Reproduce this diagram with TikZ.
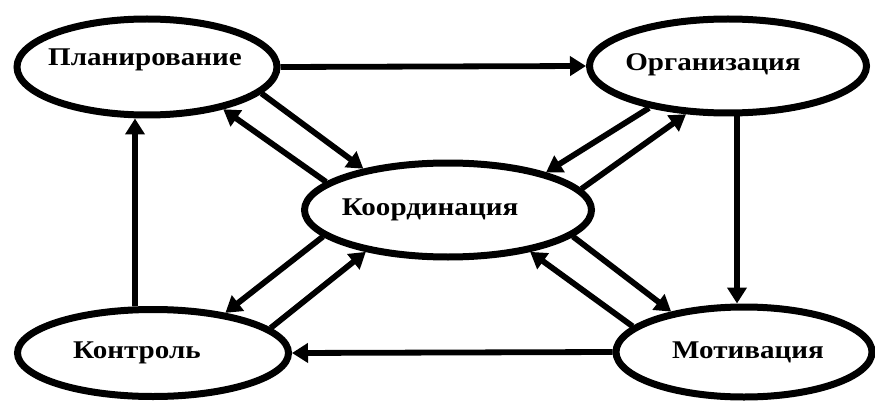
\documentclass[tikz,border=0pt]{standalone}
\usepackage{fontspec}
\setmainfont{Liberation Serif}
\newfontfamily\lblfont[FakeStretch=1.14]{Liberation Serif}
\usetikzlibrary{shapes.geometric,arrows.meta}
\tikzset{
  oval/.style={ellipse, draw, line width=7pt, inner sep=0pt, fill=white},
  lbl/.style={font=\lblfont\fontsize{25.5}{28}\selectfont\bfseries, anchor=base, inner sep=0pt},
  arr/.style={line width=5.8pt, -{Triangle[length=16pt,width=19pt]}}
}
\begin{document}
\begin{tikzpicture}[x=1pt,y=-1pt]
\useasboundingbox (0,0) rectangle (875,401);
\node[oval, minimum width=260pt, minimum height=96pt] (plan) at (147,67) {};
\node[oval, minimum width=277pt, minimum height=94pt] (org) at (728,66) {};
\node[oval, minimum width=287pt, minimum height=94pt] (coord) at (448,210) {};
\node[oval, minimum width=271pt, minimum height=87pt] (kontr) at (153,353) {};
\node[oval, minimum width=256pt, minimum height=90pt] (motiv) at (744,352) {};
\node[lbl] (tplan) at (145,66) {Планирование};
\node[lbl] (torg) at (713,71) {Организация};
\node[lbl] (tcoord) at (430,215) {Координация};
\node[lbl] (tkontr) at (137,358) {Контроль};
\node[lbl] (tmotiv) at (748,358) {Мотивация};
% outer cycle
\draw[arr] (plan.east) -- (org.west);
\draw[arr] (org.south -| 737,0) -- (motiv.north -| 737,0);
\draw[arr] (motiv.west) -- (kontr.east);
\draw[arr] (kontr.north -| 135,0) -- (plan.south -| 135,0);
% plan <-> coord
\draw[arr] (plan.-13.9) -- (coord.154.4);
\draw[arr] (coord.167.6) -- (plan.-29.2);
% org <-> coord
\draw[arr] (org.208.6) -- (coord.21.4);
\draw[arr] (coord.9.8) -- (org.229.9);
% coord <-> kontr
\draw[arr] (coord.192.3) -- (kontr.29.9);
\draw[arr] (kontr.12.5) -- (coord.207);
% coord <-> motiv
\draw[arr] (coord.-12.6) -- (motiv.151.2);
\draw[arr] (motiv.167.1) -- (coord.-27.3);
\end{tikzpicture}
\end{document}
